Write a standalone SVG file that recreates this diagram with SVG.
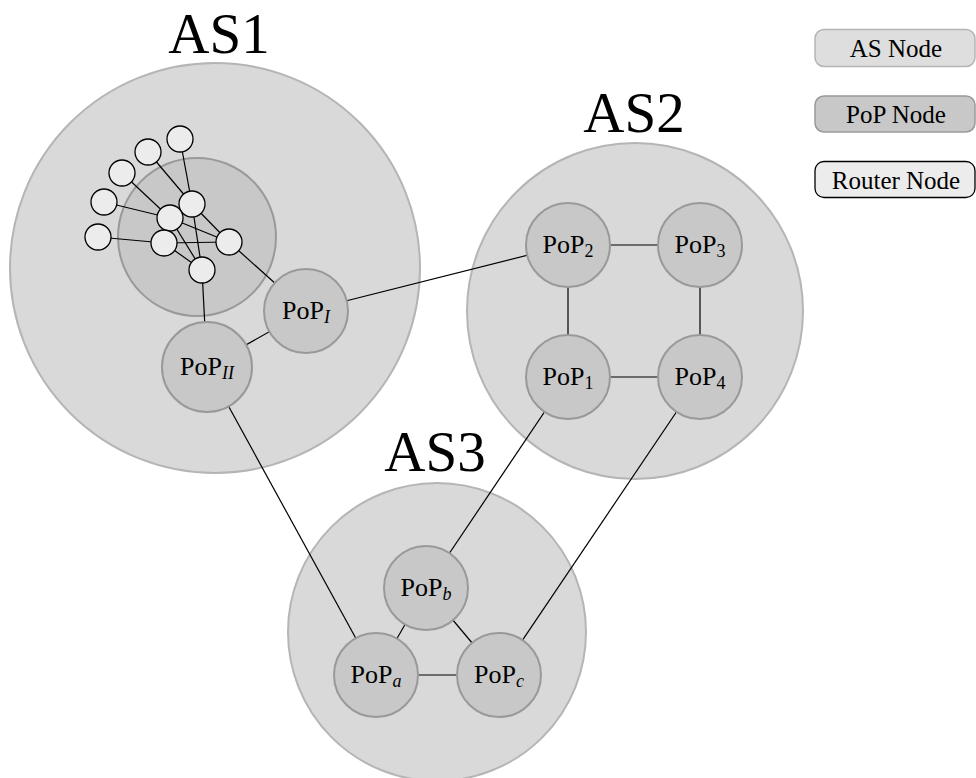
<svg xmlns="http://www.w3.org/2000/svg" width="976" height="778" viewBox="0 0 976 778">
  <style>
    .as { fill: #d9d9d9; stroke: #b5b5b5; stroke-width: 2; }
    .pop { fill: #c8c8c8; stroke: #999999; stroke-width: 2; }
    .router { fill: #ececec; stroke: #000000; stroke-width: 1.3; }
    .edge { stroke: #000000; stroke-width: 1.2; fill: none; }
    .big { font-family: "Liberation Serif", "Times New Roman", serif; font-size: 57px; fill: #000; text-anchor: middle; }
    .lbl { font-family: "Liberation Serif", "Times New Roman", serif; font-size: 26px; fill: #000; text-anchor: middle; }
    .sub { font-size: 18px; }
    .it { font-style: italic; }
    .leg { font-family: "Liberation Serif", "Times New Roman", serif; font-size: 25px; fill: #000; text-anchor: middle; }
  </style>
  <rect width="976" height="778" fill="#ffffff"/>

  <!-- autonomous systems -->
  <g id="as1">
    <circle class="as" cx="215" cy="268" r="205"/>
    <text class="big" x="219" y="53">AS1</text>
  </g>
  <g id="as2">
    <circle class="as" cx="635" cy="311" r="168"/>
    <text class="big" x="634" y="132">AS2</text>
  </g>
  <g id="as3">
    <circle class="as" cx="437" cy="632" r="149"/>
    <text class="big" x="435" y="471">AS3</text>
  </g>

  <!-- expanded PoP holding the router mesh -->
  <g id="pop-expanded">
    <circle class="pop" cx="197" cy="237" r="79"/>
  </g>

  <!-- links -->
  <g id="connectors">
    <!-- router mesh -->
    <line class="edge" x1="180" y1="139" x2="192" y2="204"/>
    <line class="edge" x1="148" y1="152" x2="192" y2="204"/>
    <line class="edge" x1="122" y1="173" x2="170" y2="218"/>
    <line class="edge" x1="104" y1="202" x2="170" y2="218"/>
    <line class="edge" x1="98" y1="237" x2="164" y2="243"/>
    <line class="edge" x1="192" y1="204" x2="229" y2="242"/>
    <line class="edge" x1="192" y1="204" x2="202" y2="270"/>
    <line class="edge" x1="170" y1="218" x2="229" y2="242"/>
    <line class="edge" x1="170" y1="218" x2="202" y2="270"/>
    <line class="edge" x1="164" y1="243" x2="229" y2="242"/>
    <line class="edge" x1="164" y1="243" x2="202" y2="270"/>
    <line class="edge" x1="229" y1="242" x2="306" y2="311"/>
    <line class="edge" x1="202" y1="270" x2="207" y2="367"/>
    <!-- AS1 -->
    <line class="edge" x1="306" y1="311" x2="207" y2="367"/>
    <!-- AS2 -->
    <line class="edge" x1="568" y1="245" x2="700" y2="245"/>
    <line class="edge" x1="568" y1="245" x2="568" y2="377"/>
    <line class="edge" x1="700" y1="245" x2="700" y2="377"/>
    <line class="edge" x1="568" y1="377" x2="700" y2="377"/>
    <!-- AS3 -->
    <line class="edge" x1="426" y1="588" x2="376" y2="675"/>
    <line class="edge" x1="426" y1="588" x2="499" y2="675"/>
    <line class="edge" x1="376" y1="675" x2="499" y2="675"/>
    <!-- inter-AS -->
    <line class="edge" x1="306" y1="311" x2="568" y2="245"/>
    <line class="edge" x1="207" y1="367" x2="376" y2="675"/>
    <line class="edge" x1="568" y1="377" x2="426" y2="588"/>
    <line class="edge" x1="700" y1="377" x2="499" y2="675"/>
  </g>

  <!-- PoP nodes -->
  <g id="pop-I">
    <circle class="pop" cx="306" cy="311" r="42"/>
    <text class="lbl" x="306" y="319">PoP<tspan class="sub it" dy="4">I</tspan></text>
  </g>
  <g id="pop-II">
    <circle class="pop" cx="207" cy="367" r="45"/>
    <text class="lbl" x="207" y="375">PoP<tspan class="sub it" dy="4">II</tspan></text>
  </g>
  <g id="pop-2">
    <circle class="pop" cx="568" cy="245" r="42"/>
    <text class="lbl" x="568" y="253">PoP<tspan class="sub" dy="4">2</tspan></text>
  </g>
  <g id="pop-3">
    <circle class="pop" cx="700" cy="245" r="42"/>
    <text class="lbl" x="700" y="253">PoP<tspan class="sub" dy="4">3</tspan></text>
  </g>
  <g id="pop-1">
    <circle class="pop" cx="568" cy="377" r="42"/>
    <text class="lbl" x="568" y="385">PoP<tspan class="sub" dy="4">1</tspan></text>
  </g>
  <g id="pop-4">
    <circle class="pop" cx="700" cy="377" r="42"/>
    <text class="lbl" x="700" y="385">PoP<tspan class="sub" dy="4">4</tspan></text>
  </g>
  <g id="pop-b">
    <circle class="pop" cx="426" cy="588" r="42"/>
    <text class="lbl" x="426" y="596">PoP<tspan class="sub it" dy="4">b</tspan></text>
  </g>
  <g id="pop-a">
    <circle class="pop" cx="376" cy="675" r="42"/>
    <text class="lbl" x="376" y="683">PoP<tspan class="sub it" dy="4">a</tspan></text>
  </g>
  <g id="pop-c">
    <circle class="pop" cx="499" cy="675" r="42"/>
    <text class="lbl" x="499" y="683">PoP<tspan class="sub it" dy="4">c</tspan></text>
  </g>

  <!-- routers -->
  <g id="router-1"><circle class="router" cx="180" cy="139" r="13"/></g>
  <g id="router-2"><circle class="router" cx="148" cy="152" r="13"/></g>
  <g id="router-3"><circle class="router" cx="122" cy="173" r="13"/></g>
  <g id="router-4"><circle class="router" cx="104" cy="202" r="13"/></g>
  <g id="router-5"><circle class="router" cx="98" cy="237" r="13"/></g>
  <g id="router-6"><circle class="router" cx="192" cy="204" r="13"/></g>
  <g id="router-7"><circle class="router" cx="170" cy="218" r="13"/></g>
  <g id="router-8"><circle class="router" cx="164" cy="243" r="13"/></g>
  <g id="router-9"><circle class="router" cx="229" cy="242" r="13"/></g>
  <g id="router-10"><circle class="router" cx="202" cy="270" r="13"/></g>

  <!-- legend -->
  <g id="legend-as">
    <rect x="815" y="29.5" width="160" height="37" rx="9" fill="#dedede" stroke="#b5b5b5" stroke-width="1.5"/>
    <text class="leg" x="896" y="57">AS Node</text>
  </g>
  <g id="legend-pop">
    <rect x="815" y="96" width="160" height="36" rx="9" fill="#c8c8c8" stroke="#999999" stroke-width="1.5"/>
    <text class="leg" x="896" y="123">PoP Node</text>
  </g>
  <g id="legend-router">
    <rect x="815" y="161.5" width="160" height="36" rx="9" fill="#ececec" stroke="#000000" stroke-width="1.3"/>
    <text class="leg" x="896" y="189">Router Node</text>
  </g>
</svg>
